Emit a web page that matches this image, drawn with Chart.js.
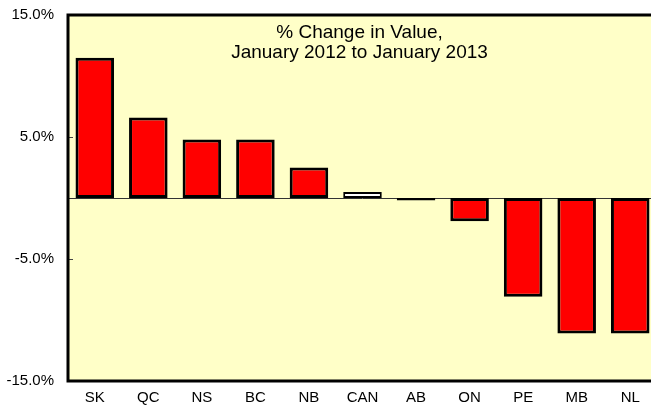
<!DOCTYPE html>
<html>
<head>
<meta charset="utf-8">
<style>
html,body{margin:0;padding:0;background:#fff;overflow:hidden;width:651px;height:411px;}
#wrap{width:657px;height:411px;}
</style>
<script src="https://cdn.jsdelivr.net/npm/chart.js@4"></script>
</head>
<body>
<div id="wrap"><canvas id="c" width="657" height="411"></canvas></div>
<script>
const categories = ["SK","QC","NS","BC","NB","CAN","AB","ON","PE","MB","NL"];
const changeValues = [11.5, 6.6, 4.8, 4.8, 2.5, 0.5, -0.2, -1.9, -8.1, -11.1, -11.1];
const yTicks = [-15, -5, 5, 15];
const titleLines = ["% Change in Value,", "January 2012 to January 2013"];

const FONT = "'Liberation Sans', Arial, sans-serif";

const framePlugin = {
  id: 'frame',
  beforeDatasetsDraw(chart) {
    const {ctx, chartArea: a, scales} = chart;
    ctx.save();
    ctx.fillStyle = '#FFFFC8';
    ctx.fillRect(a.left, a.top, a.right - a.left, a.bottom - a.top);
    const y0 = scales.y.getPixelForValue(0);
    ctx.strokeStyle = '#333';
    ctx.lineWidth = 1;
    ctx.beginPath();
    ctx.moveTo(a.left, Math.round(y0) + 0.5);
    ctx.lineTo(a.right, Math.round(y0) + 0.5);
    ctx.stroke();
    ctx.strokeStyle = '#444';
    scales.y.ticks.forEach(t => {
      const yy = Math.round(scales.y.getPixelForValue(t.value)) + 0.5;
      ctx.beginPath();
      ctx.moveTo(a.left, yy);
      ctx.lineTo(a.left + 5, yy);
      ctx.stroke();
    });
    ctx.restore();
  },
  afterDatasetsDraw(chart) {
    const {ctx, chartArea: a} = chart;
    ctx.save();
    ctx.strokeStyle = '#000';
    ctx.lineWidth = 3;
    ctx.beginPath();
    ctx.moveTo(a.right, a.top);
    ctx.lineTo(a.left, a.top);
    ctx.lineTo(a.left, a.bottom);
    ctx.lineTo(a.right, a.bottom);
    ctx.stroke();
    ctx.fillStyle = '#000';
    ctx.font = '19px ' + FONT;
    ctx.textAlign = 'center';
    ctx.textBaseline = 'middle';
    const cx = (a.left + a.right) / 2 - 3;
    titleLines.forEach((l, i) => ctx.fillText(l, cx, a.top + 18 + i * 19.5));
    ctx.restore();
  }
};

new Chart(document.getElementById('c'), {
  type: 'bar',
  data: {
    labels: categories,
    datasets: [{
      data: changeValues,
      backgroundColor: categories.map(c => c === 'CAN' ? '#FFFFFF' : '#FF0000'),
      borderColor: '#000',
      borderWidth: categories.map(c => c === 'CAN' ? 2 : 3),
      borderSkipped: false,
      barPercentage: 0.72,
      categoryPercentage: 1.0
    }]
  },
  options: {
    responsive: false,
    animation: false,
    devicePixelRatio: 1,
    layout: {padding: {top: 15, right: 0, left: 0, bottom: 0}},
    plugins: {legend: {display: false}, tooltip: {enabled: false}, title: {display: false}},
    scales: {
      x: {
        grid: {display: false, drawTicks: false},
        border: {display: false},
        ticks: {color: '#000', font: {family: FONT, size: 15}, padding: 8, maxRotation: 0},
        afterFit(s) { s.height = 30; }
      },
      y: {
        min: -15, max: 15,
        afterBuildTicks(s) { s.ticks = yTicks.map(v => ({value: v})); },
        grid: {display: false, drawTicks: false},
        border: {display: false},
        ticks: {color: '#000', font: {family: FONT, size: 15}, padding: 14,
          callback: v => v.toFixed(1) + '%'},
        afterFit(s) { s.width = 68; s.paddingTop = 0; s.paddingBottom = 0; }
      }
    }
  },
  plugins: [framePlugin]
});
</script>
</body>
</html>
